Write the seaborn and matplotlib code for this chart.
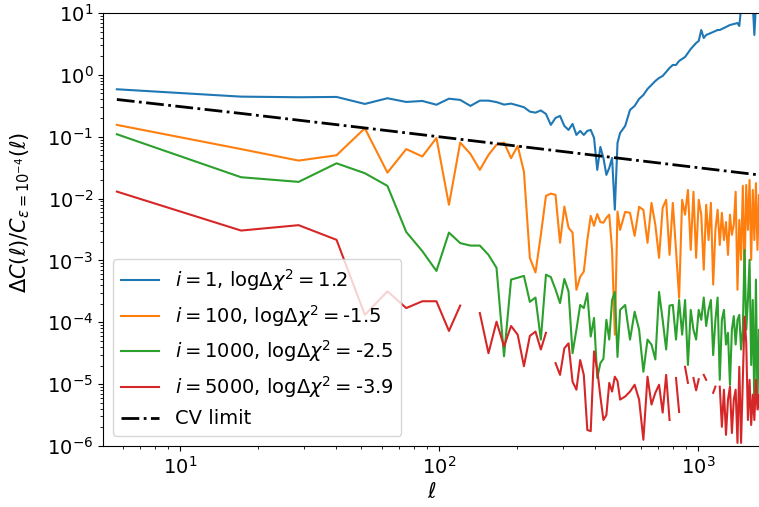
import numpy as np
import pandas as pd
import matplotlib
matplotlib.use("Agg")
import matplotlib.pyplot as plt
from matplotlib.lines import Line2D
import seaborn as sns

nan = np.nan

# multipole bins
ell = [5.7, 17.2, 28.7, 40.2, 51.7, 63.2, 74.7, 86.2, 97.7, 109.2, 120.7, 132.2,
       143.7, 155.2, 166.7, 178.2, 189.7, 201.2, 212.7, 224.2, 235.7, 247.2, 258.7,
       270.2, 281.7, 293.2, 304.7, 316.2, 327.7, 339.2, 350.7, 362.2, 373.7, 385.2,
       396.7, 408.2, 419.7, 431.2, 442.7, 454.2, 465.7, 477.2, 488.7,
       500.2, 523.2, 546.2, 569.2, 592.2, 615.2, 638.2, 661.2, 684.2, 707.2, 730.2,
       753.2, 776.2, 799.2, 822.2, 845.2, 868.2, 891.2, 914.2, 937.2, 960.2, 983.2,
       1006.2, 1029.2, 1052.2, 1075.2, 1098.2, 1121.2, 1144.2, 1167.2, 1190.2,
       1213.2, 1236.2, 1259.2, 1282.2, 1305.2, 1328.2, 1351.2, 1374.2, 1397.2,
       1420.2, 1443.2, 1466.2, 1489.2, 1512.2, 1535.2, 1558.2, 1581.2, 1604.2,
       1627.2, 1650.2, 1673.2, 1696.2, 1719.2, 1742.2, 1765.2]

# log10 of Delta C / C for each sample
log_i1 = [-0.233, -0.352, -0.362, -0.357, -0.47, -0.378, -0.438, -0.422, -0.483, -0.385,
          -0.405, -0.502, -0.417, -0.417, -0.44, -0.481, -0.465, -0.494, -0.523, -0.594,
          -0.611, -0.575, -0.632, -0.809, -0.696, -0.664, -0.826, -0.89, -0.793, -0.971,
          -0.906, -0.971, -0.906, -0.89, -1.019, -1.536, -1.165, -1.343, -1.617, -1.504,
          -1.343, -2.18, -1.10,
          -0.939, -0.826, -0.567, -0.502, -0.389, -0.325, -0.228, -0.163, -0.099, -0.050,
          -0.018, 0.047, 0.112, 0.160, 0.160, 0.225, 0.257, 0.289, 0.354, 0.418,
          0.467, 0.515, 0.548, 0.725, 0.596, 0.645, 0.661, 0.677, 0.693, 0.709,
          0.725, 0.725, 0.742, 0.758, 0.774, 0.790, 0.806, 0.814, 0.822, 0.830,
          0.838, 0.790, 1.080, 1.400, 1.500, 1.500, 1.500, 1.500, 1.500, 1.130,
          0.645, 1.130, 1.500, 1.500, 1.500, 1.500]

log_i100 = [-0.809, -1.2, -1.386, -1.3, -0.863, -1.58, -1.2, -1.32, -1.02, -2.10,
            -1.095, -1.278, -1.536, -1.294, -1.13, -1.095, -1.347, -1.149, -1.564, -2.96,
            -3.195, -2.59, -1.956, -1.92, -1.94, -2.715, -2.13, -2.47, -2.55, -3.475,
            -3.265, -3.18, -2.67, -2.28, -2.44, -2.25, -2.38, -2.39, -2.31, -2.26,
            -2.83, -4.2, -2.21,
            -2.506, -2.215, -2.231, -2.603, -2.134, -2.183, -2.716, -2.07, -2.425, -2.958,
            -2.15, -2.02, -2.91, -2.07, -2.83, -3.604, -2.02, -2.26, -1.86, -2.83,
            -1.89, -2.958, -2.02, -2.26, -3.15, -2.10, -2.67, -2.07, -3.39, -2.506,
            -2.18, -2.75, -2.23, -2.67, -2.38, -2.91, -2.26, -2.585, -2.425, -1.89,
            -3.475, -2.345, -2.99, -1.795, -3.23, -1.78, -2.506, -1.70, -2.99, -1.86,
            -2.67, -1.75, -2.83, -1.94, -2.26, -2.02]

log_i1000 = [-0.96, -1.655, -1.73, -1.43, -1.59, -1.795, -2.54, -2.85, -3.17, -2.55,
             -2.72, -2.76, -2.76, -2.91, -3.12, -4.55, -3.31, -3.28, -3.25, -3.67,
             -3.6, -4.28, -3.23, -3.27, -3.47, -3.69, -3.30, -3.50, -4.50, -4.12,
             -3.72, -3.77, -3.53, -4.23, -3.93, -4.90, -4.66, -4.59, -3.96, -4.28,
             -3.64, -3.51, -4.56,
             -3.80, -3.72, -4.28, -3.83, -4.12, -4.80, -4.28, -4.36, -4.6, -3.51,
             -3.96, -4.44, -3.73, -3.72, -4.28, -3.64, -4.20, -3.64, -4.69, -3.80,
             -4.12, -4.28, -3.80, -3.96, -3.60, -4.06, -3.80, -3.64, -4.53, -3.96,
             -3.60, -4.93, -3.96, -3.80, -4.36, -4.17, -5.01, -4.12, -3.90, -4.36,
             -3.96, -3.88, -4.44, -4.12, -2.83, -4.12, -3.64, -2.99, -4.69, -3.64,
             -5.41, -3.31, -5.33, -4.12, -5.09, -4.44]

log_i5000 = [-1.887, -2.517, -2.43, -2.667, -3.88, -3.50, -3.77, -3.66, -3.66, -4.14,
             -3.73, nan, -3.85, -4.50, -3.99, -4.39, -4.06, -4.20, -4.71, -4.22,
             -4.15, -4.44, -4.17, nan, -4.66, -4.85, -4.42, -4.34, -4.96, -5.09,
             -4.61, -4.85, -5.74, -5.76, -4.47, -4.77, -5.20, -5.58, -5.50, -4.98,
             -5.12, -4.88, -4.95,
             -5.25, -5.20, -5.12, -5.01, -5.25, -5.90, -4.88, -5.33, -5.14, -5.01,
             -5.46, -4.85, -5.58, nan, -4.90, -5.45, nan, -4.72, -4.98, nan,
             -4.90, -5.10, -4.92, nan, -4.85, -4.93, nan, nan, -5.14, -5.04,
             nan, -5.04, -5.69, -5.09, -5.82, -5.25, -5.04, -5.79, -5.25, -5.09,
             -5.95, -4.72, -5.95, -4.93, -3.91, -4.33, -5.58, -4.93, -5.66, -5.17,
             -5.58, -4.93, -5.41, -5.17, -5.58, -5.25]

# cosmic variance limit
cv_ell = [5.7, 17.2, 51.7, 97.7, 201.2, 500.2, 1006.2, 1765.2]
cv_val = [0.3998, 0.2379, 0.1385, 0.1010, 0.0704, 0.0447, 0.0315, 0.0238]

labels = [r"$i=1$, log$\Delta\chi^2=$1.2",
          r"$i=100$, log$\Delta\chi^2=$-1.5",
          r"$i=1000$, log$\Delta\chi^2=$-2.5",
          r"$i=5000$, log$\Delta\chi^2=$-3.9",
          "CV limit"]
colors = ["#1f77b4", "#ff7f0e", "#2ca02c", "#d62728"]

fig = plt.figure(figsize=(7.59, 5.07), dpi=100)
ax = fig.add_axes([103 / 759, 61 / 507, 657 / 759, 433 / 507])
ax.set_xscale("log")
ax.set_yscale("log")

for logv, c in zip([log_i1, log_i100, log_i1000, log_i5000], colors):
    df = pd.DataFrame({"ell": ell, "dc": 10 ** np.array(logv, dtype=float)})
    df["seg"] = df["dc"].isna().cumsum()
    df = df.dropna()
    sns.lineplot(data=df, x="ell", y="dc", units="seg", estimator=None,
                 sort=False, color=c, lw=1.5, ax=ax, legend=False)

cvdf = pd.DataFrame({"ell": cv_ell, "cv": cv_val})
sns.lineplot(data=cvdf, x="ell", y="cv", estimator=None, sort=False,
             color="black", lw=2, ls="-.", ax=ax, legend=False)

ax.set_xlim(5.04, 1735)
ax.set_ylim(1e-6, 1e1)
ax.set_xlabel(r"$\ell$", fontsize=15, labelpad=3)
ax.set_ylabel(r"$\Delta C(\ell)/C_{\varepsilon=10^{-4}}(\ell)$", fontsize=15)
ax.yaxis.set_label_coords(-0.108, 0.54)
ax.tick_params(labelsize=14)

handles = [Line2D([], [], color=c, lw=1.5) for c in colors]
handles.append(Line2D([], [], color="black", lw=2, ls="-."))
ax.legend(handles, labels, loc="lower left", fontsize=14)

fig.savefig("out.png", dpi=100)
